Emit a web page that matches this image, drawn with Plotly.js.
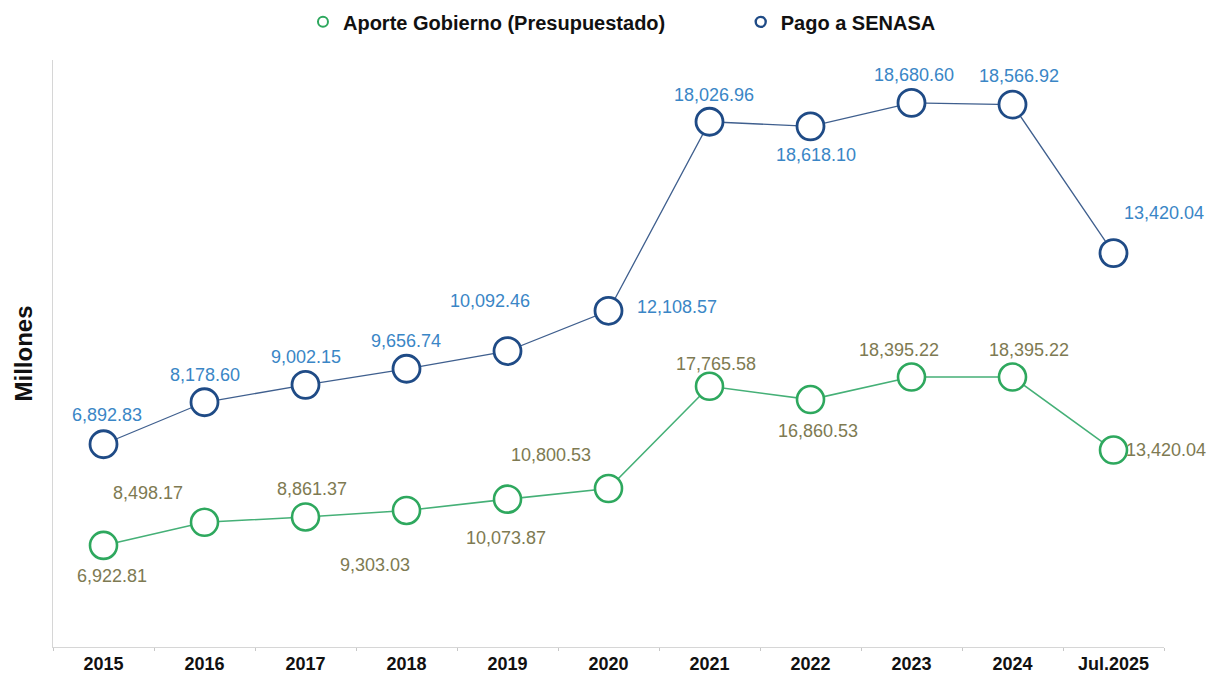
<!DOCTYPE html>
<html>
<head>
<meta charset="utf-8">
<script src="https://cdn.plot.ly/plotly-3.0.1.min.js"></script>
<style>html,body{margin:0;padding:0;background:#fff;}#chart{width:1224px;height:683px;}</style>
</head>
<body>
<div id="chart"></div>
<script>
const categories = ["2015","2016","2017","2018","2019","2020","2021","2022","2023","2024","Jul.2025"];
const aporteGobierno = [6922.81, 8498.17, 8861.37, 9303.03, 10073.87, 10800.53, 17765.58, 16860.53, 18395.22, 18395.22, 13420.04];
const pagoSenasa = [6892.83, 8178.60, 9002.15, 9656.74, 10092.46, 12108.57, 18026.96, 18618.10, 18680.60, 18566.92, 13420.04];
const seriesNames = ["Aporte Gobierno (Presupuestado)", "Pago a SENASA"];

// label offsets in pixels (dx, dy; dy positive = up)
const greenOffsets = [[8,-31],[-57,29],[6,28],[-32,-55],[-2,-39],[-58,34],[6,22],[7,-31],[-13,27],[16,27],[52,0]];
const blueOffsets = [[3,29],[0,27],[0,28],[-1,28],[-18,50],[68,4],[4,27],[5,-29],[2,28],[6,29],[50,40]];

const GREEN = "#2ea85e", GREEN_LINE = "#45b077", GREEN_TEXT = "#7e7a52";
const BLUE = "#1f4b86", BLUE_LINE = "#3f5f8e", BLUE_TEXT = "#3a86c6";
const FONT = "Liberation Sans, Arial, sans-serif";

const fmt = v => v.toLocaleString("en-US", {minimumFractionDigits: 2, maximumFractionDigits: 2});

const traces = [
  {
    x: categories, y: aporteGobierno, name: seriesNames[0], type: "scatter", mode: "lines+markers",
    stackgroup: "one", fill: "none", showlegend: false,
    line: {color: GREEN_LINE, width: 1.6},
    marker: {symbol: "circle", size: 27, color: "#ffffff", line: {color: GREEN, width: 2.6}}
  },
  {
    x: categories, y: pagoSenasa, name: seriesNames[1], type: "scatter", mode: "lines+markers",
    stackgroup: "one", fill: "none", showlegend: false,
    line: {color: BLUE_LINE, width: 1.3},
    marker: {symbol: "circle", size: 27, color: "#ffffff", line: {color: BLUE, width: 2.8}}
  },
  {
    x: [null], y: [null], name: seriesNames[0], type: "scatter", mode: "markers", showlegend: true, legend: "legend",
    marker: {symbol: "circle", size: 10, color: "#ffffff", line: {color: GREEN, width: 2}}
  },
  {
    x: [null], y: [null], name: seriesNames[1], type: "scatter", mode: "markers", showlegend: true, legend: "legend2",
    marker: {symbol: "circle", size: 10, color: "#ffffff", line: {color: BLUE, width: 2.4}}
  }
];

const annotations = [];
categories.forEach((c, i) => {
  annotations.push({
    x: i, y: aporteGobierno[i], xref: "x", yref: "y", text: fmt(aporteGobierno[i]), showarrow: false,
    xshift: greenOffsets[i][0], yshift: greenOffsets[i][1],
    font: {family: FONT, size: 18, color: GREEN_TEXT}
  });
  annotations.push({
    x: i, y: aporteGobierno[i] + pagoSenasa[i], xref: "x", yref: "y", text: fmt(pagoSenasa[i]), showarrow: false,
    xshift: blueOffsets[i][0], yshift: blueOffsets[i][1],
    font: {family: FONT, size: 18, color: BLUE_TEXT}
  });
});

const legendFont = {family: FONT, size: 20, color: "#111111", weight: "bold"};

const layout = {
  width: 1224, height: 683,
  margin: {l: 53, r: 60, t: 60, b: 36},
  paper_bgcolor: "#ffffff", plot_bgcolor: "#ffffff",
  font: {family: FONT, color: "#111111"},
  showlegend: true,
  legend: {
    orientation: "h", x: 0.225, xanchor: "left", yref: "container", y: 0.968, yanchor: "middle",
    font: legendFont, itemwidth: 30, bgcolor: "rgba(0,0,0,0)"
  },
  legend2: {
    orientation: "h", x: 0.619, xanchor: "left", yref: "container", y: 0.968, yanchor: "middle",
    font: legendFont, itemwidth: 30, bgcolor: "rgba(0,0,0,0)"
  },
  xaxis: {
    type: "category", range: [-0.5, 10.5], showgrid: false, zeroline: false,
    showline: true, linecolor: "#d6d6d6", linewidth: 1,
    ticks: "outside", tickson: "boundaries", ticklen: 3, tickcolor: "#c8c8c8",
    tickfont: {family: FONT, size: 18, color: "#111111", weight: "bold"}
  },
  yaxis: {
    range: [0, 40000], showgrid: false, zeroline: false, showticklabels: false, ticks: "",
    showline: true, linecolor: "#d6d6d6", linewidth: 1,
    title: {text: "Millones", standoff: 12, font: {family: FONT, size: 24, color: "#111111", weight: "bold"}}
  },
  annotations: annotations
};

Plotly.newPlot("chart", traces, layout, {displayModeBar: false, staticPlot: true});
</script>
</body>
</html>
